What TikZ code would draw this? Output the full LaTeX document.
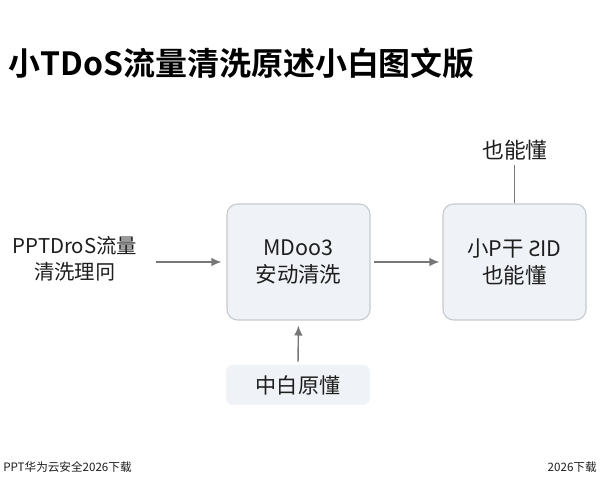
\documentclass[tikz,border=0pt]{standalone}
\usepackage{fontspec}
\setmainfont{Noto Sans CJK SC}[BoldFont={Noto Sans CJK SC Bold}]
\newfontfamily\latfont{Noto Sans}
\usetikzlibrary{arrows.meta, positioning}

\definecolor{boxfill}{HTML}{EFF2F6}
\definecolor{boxline}{HTML}{C5C9CF}
\definecolor{arrowgray}{HTML}{777777}
\definecolor{inkdark}{HTML}{1E1E1E}

\begin{document}
\begin{tikzpicture}[
    stagebox/.style={draw=boxline, fill=boxfill, rounded corners=6pt, line width=0.6pt,
      minimum width=2.86cm, minimum height=2.32cm, align=center, text=inkdark,
      font=\fontsize{12.2}{15}\selectfont},
    flowarrow/.style={draw=arrowgray, line width=0.8pt, -{Latex[length=2mm,width=1.7mm]}},
    plaintext/.style={text=inkdark, align=center, font=\fontsize{11.6}{14.7}\selectfont}
  ]
  \useasboundingbox[fill=white] (0,0) rectangle (12,10);

  \node[anchor=west, inner sep=0pt, font=\fontsize{18.2}{22}\selectfont\bfseries, text=black] (title) at (0.16,8.74) {小TDoS流量清洗原述小白图文版};

  % main flow
  \node[plaintext] (source) at (1.5,4.82) {PPTDroS流量\\清洗理冋};
  \node[stagebox] (clean) at (5.97,4.76) {MDoo3\\安动清洗};
  \node[stagebox] (result) at (10.29,4.76) {小P干 {\latfont Ƨ}ID\\也能懂};
  \node[fill=boxfill, rounded corners=4pt, minimum width=2.88cm, minimum height=0.8cm,
    text=inkdark, font=\fontsize{12}{14}\selectfont] (basis) at (5.96,2.30) {中白原懂};

  \draw[flowarrow, shorten <=0.25cm, shorten >=0.1cm] (source.east |- clean.west) -- (clean.west);
  \draw[flowarrow, shorten <=0.06cm, shorten >=0.06cm] (clean.east) -- (result.west);
  \draw[flowarrow, shorten <=0.06cm, shorten >=0.1cm] (basis.north) -- (clean.south);

  % label above
  \node[plaintext, font=\fontsize{12.4}{14}\selectfont] (note) at (10.3,7.0) {也能懂};
  \coordinate (noteend) at (10.29,6.7);
  \draw[draw=arrowgray, line width=0.8pt] (result.north) -- (noteend);

  % footer
  \node[anchor=west, inner sep=0pt, text=inkdark, font=\fontsize{6.6}{8}\selectfont] (footl) at (0.06,0.66) {PPT华为云安全2026下载};
  \node[anchor=east, inner sep=0pt, text=inkdark, font=\fontsize{6.6}{8}\selectfont] (footr) at (11.94,0.66) {2026下载};
\end{tikzpicture}
\end{document}
